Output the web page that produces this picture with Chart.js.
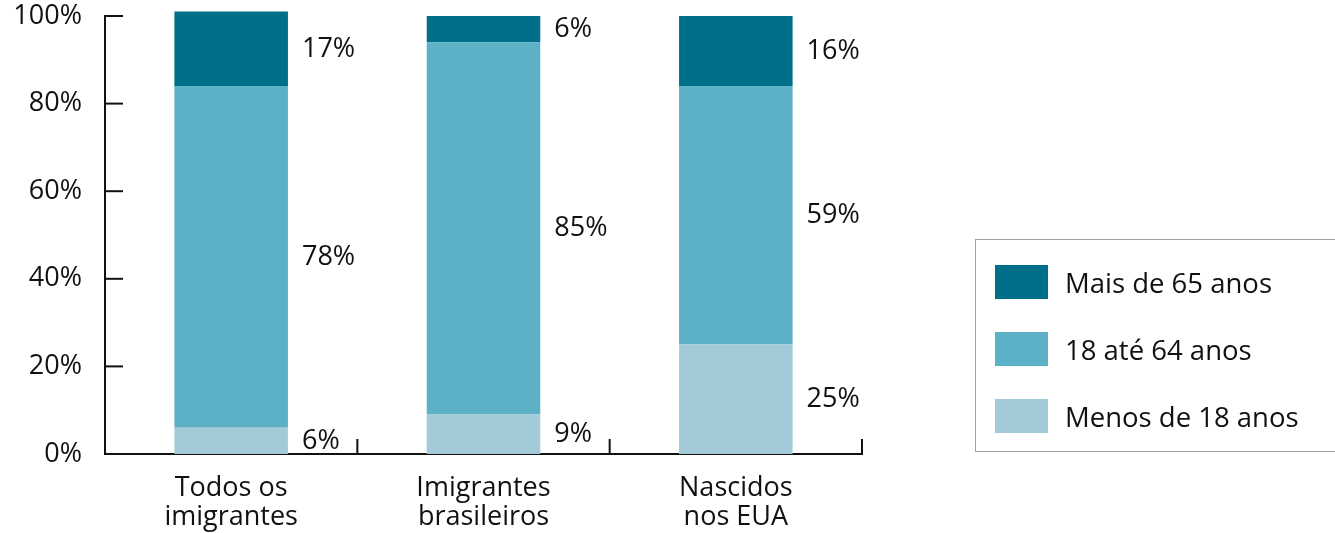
<!DOCTYPE html>
<html>
<head>
<meta charset="utf-8">
<script src="https://cdn.jsdelivr.net/npm/chart.js@4/dist/chart.umd.min.js"></script>
<style>
  body { margin: 0; background: #fff; }
  #wrap { position: relative; width: 1335px; height: 533px; }
  #legend {
    position: absolute; left: 975px; top: 239px; width: 362px; height: 213px;
    border: 1.5px solid #a0a0a0; box-sizing: border-box;
    font-family: "Open Sans", sans-serif; font-size: 27.5px; color: #111;
  }
  .item { position: absolute; left: 19px; height: 34px; display: flex; align-items: center; }
  .sw { width: 53px; height: 34px; margin-right: 17px; }
</style>
</head>
<body>
<div id="wrap">
  <canvas id="chart" width="1335" height="533"></canvas>
  <div id="legend"></div>
</div>
<script>
const categories = [["Todos os", "imigrantes"], ["Imigrantes", "brasileiros"], ["Nascidos", "nos EUA"]];
const seriesNames = ["Menos de 18 anos", "18 até 64 anos", "Mais de 65 anos"];
const under18 = [6, 9, 25];
const age18to64 = [78, 85, 59];
const over65 = [17, 6, 16];
const colors = ["#a3cbd7", "#5db1c7", "#006f89"];
const yTicks = [0, 20, 40, 60, 80, 100];

const FONT = '"Open Sans", sans-serif';

// axis ticks drawn inside the plot + value labels beside the bars
const extrasPlugin = {
  id: "extras",
  afterDraw(chart) {
    const { ctx, chartArea, scales } = chart;
    ctx.save();
    ctx.strokeStyle = "#111";
    ctx.lineWidth = 2;
    yTicks.forEach((v) => {
      const y = scales.y.getPixelForValue(v);
      ctx.beginPath();
      ctx.moveTo(chartArea.left, y);
      ctx.lineTo(chartArea.left + 18, y);
      ctx.stroke();
    });
    const n = categories.length;
    const step = (chartArea.right - chartArea.left) / n;
    for (let i = 1; i <= n; i++) {
      const x = chartArea.left + step * i;
      ctx.beginPath();
      ctx.moveTo(x, chartArea.bottom);
      ctx.lineTo(x, chartArea.bottom - 15);
      ctx.stroke();
    }
    ctx.fillStyle = "#111";
    ctx.font = "27px " + FONT;
    ctx.textAlign = "left";
    ctx.textBaseline = "middle";
    chart.data.datasets.forEach((ds, di) => {
      const meta = chart.getDatasetMeta(di);
      meta.data.forEach((bar, i) => {
        const yMid = (bar.y + bar.base) / 2;
        const right = bar.x + bar.width / 2;
        ctx.fillText(ds.data[i] + "%", right + 14, yMid);
      });
    });
    ctx.restore();
  },
};

const seriesData = [under18, age18to64, over65];

new Chart(document.getElementById("chart").getContext("2d"), {
  type: "bar",
  data: {
    labels: categories,
    datasets: seriesNames.map((name, i) => ({
      label: name,
      data: seriesData[i],
      backgroundColor: colors[i],
      borderWidth: 0,
      barPercentage: 0.45,
      categoryPercentage: 1,
      clip: false,
    })),
  },
  options: {
    responsive: false,
    animation: false,
    layout: { padding: { top: 16, right: 473, left: 0, bottom: 0 } },
    plugins: { legend: { display: false }, tooltip: { enabled: false } },
    scales: {
      x: {
        stacked: true,
        grid: { display: false, drawTicks: false },
        border: { display: true, color: "#111", width: 2 },
        afterFit: (axis) => { axis.height = 79; },
        ticks: { color: "#111", font: { family: FONT, size: 27, lineHeight: 1.1 }, padding: 19, maxRotation: 0 },
      },
      y: {
        stacked: true,
        min: 0,
        max: 100,
        grid: { display: false, drawTicks: false },
        border: { display: true, color: "#111", width: 2 },
        afterBuildTicks: (axis) => { axis.ticks = yTicks.map((v) => ({ value: v })); },
        afterFit: (axis) => { axis.width = 105; axis.paddingTop = 0; axis.paddingBottom = 0; },
        ticks: {
          color: "#111",
          font: { family: FONT, size: 27 },
          padding: 23,
          callback: (v) => v + "%",
        },
      },
    },
  },
  plugins: [extrasPlugin],
});

// legend, top item first
const legend = document.getElementById("legend");
[2, 1, 0].forEach((si, row) => {
  const item = document.createElement("div");
  item.className = "item";
  item.style.top = 25 + row * 67 + "px";
  item.innerHTML = '<div class="sw" style="background:' + colors[si] + '"></div><span>' + seriesNames[si] + "</span>";
  legend.appendChild(item);
});
</script>
</body>
</html>
